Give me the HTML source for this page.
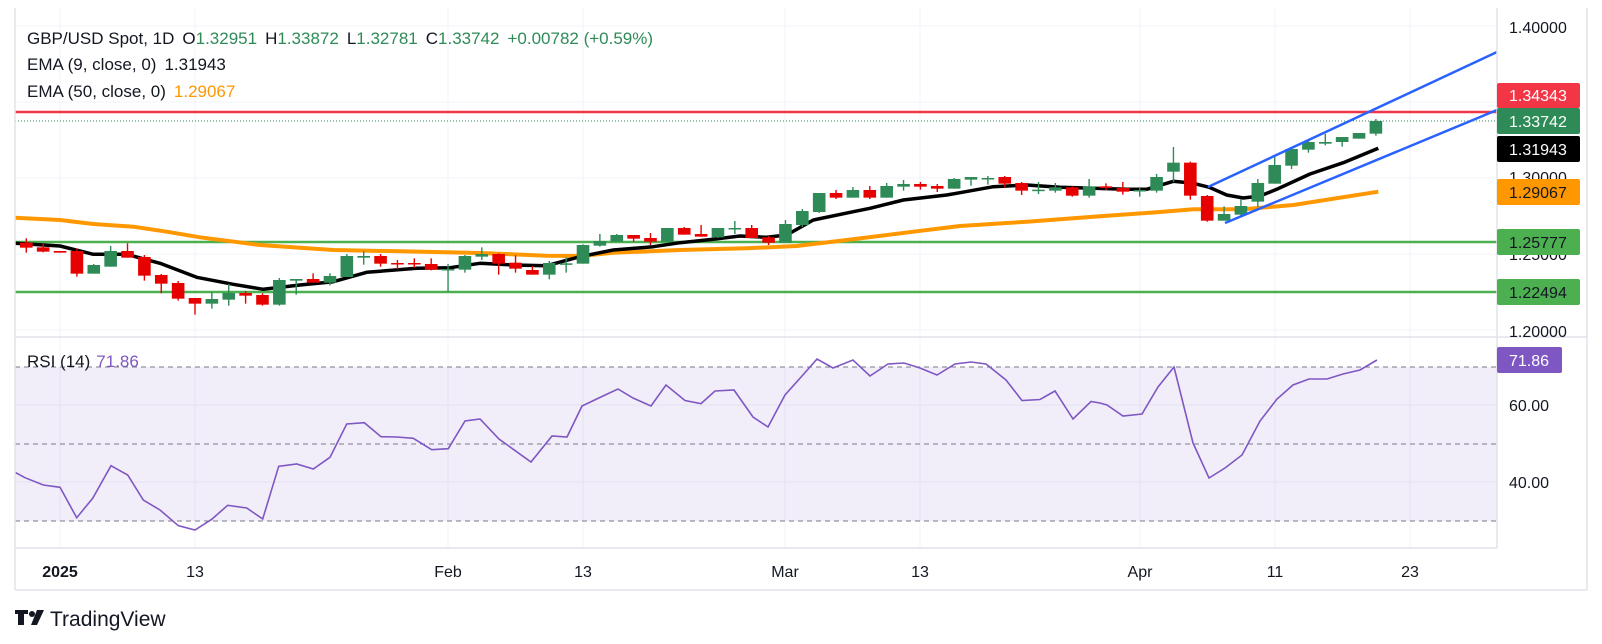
<!DOCTYPE html>
<html><head><meta charset="utf-8"><style>
html,body{margin:0;padding:0;background:#fff;}
svg{display:block;font-family:"Liberation Sans",sans-serif;}
</style></head><body>
<svg id="s" width="1602" height="644" viewBox="0 0 1602 644" xmlns="http://www.w3.org/2000/svg">
<rect width="1602" height="644" fill="#fff"/>
<g id="grid" stroke="#f0f3fa" stroke-width="1"></g>
<rect x="15" y="367" width="1482" height="154" fill="#7e57c2" fill-opacity="0.1"/>
<g stroke="#787b86" stroke-width="1" stroke-dasharray="5,4">
<line x1="15" y1="367" x2="1497" y2="367"/><line x1="15" y1="444" x2="1497" y2="444"/><line x1="15" y1="521" x2="1497" y2="521"/>
</g>
<line x1="15" y1="242" x2="1497" y2="242" stroke="#4caf50" stroke-width="2.5"/>
<line x1="15" y1="292" x2="1497" y2="292" stroke="#4caf50" stroke-width="2.5"/>
<line x1="15" y1="112" x2="1497" y2="112" stroke="#f23645" stroke-width="2.5"/>
<line x1="15" y1="121" x2="1497" y2="121" stroke="#2e8b57" stroke-width="1" stroke-dasharray="1,2"/>
<polyline id="ema50" fill="none" stroke="#ff9800" stroke-width="4" stroke-linejoin="round"/>
<polyline id="ema9" fill="none" stroke="#000" stroke-width="3.5" stroke-linejoin="round"/>
<g id="candles"></g>
<line x1="1208" y1="187" x2="1497" y2="52" stroke="#2962ff" stroke-width="2.5"/>
<line x1="1225" y1="223" x2="1497" y2="110" stroke="#2962ff" stroke-width="2.5"/>
<polyline id="rsi" fill="none" stroke="#7e57c2" stroke-width="1.6"/>
<g stroke="#e0e3eb" stroke-width="1.5" fill="none">
<line x1="15" y1="8" x2="15" y2="590"/><line x1="1497" y1="8" x2="1497" y2="548"/>
<line x1="15" y1="337" x2="1587" y2="337"/><line x1="15" y1="548" x2="1497" y2="548"/>
<line x1="15" y1="590" x2="1587" y2="590"/><line x1="1587" y1="8" x2="1587" y2="590"/>
</g>
<g font-size="17" fill="#131722">
<text x="27" y="44">GBP/USD Spot, 1D<tspan dx="8">O</tspan><tspan fill="#2e8b57">1.32951</tspan><tspan dx="8">H</tspan><tspan fill="#2e8b57">1.33872</tspan><tspan dx="8">L</tspan><tspan fill="#2e8b57">1.32781</tspan><tspan dx="8">C</tspan><tspan fill="#2e8b57">1.33742</tspan><tspan dx="8" fill="#2e8b57">+0.00782 (+0.59%)</tspan></text>
<text x="27" y="70">EMA (9, close, 0)<tspan dx="8">1.31943</tspan></text>
<text x="27" y="97">EMA (50, close, 0)<tspan dx="8" fill="#ff9800">1.29067</tspan></text>
<text x="27" y="367">RSI (14)<tspan dx="6" fill="#7e57c2">71.86</tspan></text>
</g>
<g font-size="16" fill="#131722">
<text x="1509" y="33">1.40000</text>
<text x="1509" y="183">1.30000</text>
<text x="1509" y="260">1.25000</text>
<text x="1509" y="337">1.20000</text>
<text x="1509" y="411">60.00</text>
<text x="1509" y="488">40.00</text>
</g>
<g font-size="16" fill="#fff">
<rect x="1497" y="83" width="83" height="25" rx="2" fill="#f23645"/><text x="1509" y="101">1.34343</text>
<rect x="1497" y="108" width="83" height="26" rx="2" fill="#2e8b57"/><text x="1509" y="127">1.33742</text>
<rect x="1497" y="136" width="83" height="26" rx="2" fill="#000"/><text x="1509" y="155">1.31943</text>
<rect x="1497" y="179" width="83" height="26" rx="2" fill="#ff9800"/><text x="1509" y="198" fill="#131722">1.29067</text>
<rect x="1497" y="229" width="83" height="26" rx="2" fill="#4caf50"/><text x="1509" y="248" fill="#131722">1.25777</text>
<rect x="1497" y="279" width="83" height="26" rx="2" fill="#4caf50"/><text x="1509" y="298" fill="#131722">1.22494</text>
<rect x="1497" y="347" width="65" height="26" rx="2" fill="#7e57c2"/><text x="1509" y="366">71.86</text>
</g>
<g font-size="16" fill="#131722" text-anchor="middle">
<text x="60" y="577" font-weight="bold">2025</text>
<text x="195" y="577">13</text><text x="448" y="577">Feb</text><text x="583" y="577">13</text>
<text x="785" y="577">Mar</text><text x="920" y="577">13</text><text x="1140" y="577">Apr</text>
<text x="1275" y="577">11</text><text x="1410" y="577">23</text>
</g>
<g fill="#131722">
<path d="M15 610h13v4h-4v11h-6v-11h-3z"/>
<circle cx="32" cy="614" r="3"/>
<path d="M37 610h7l-7 15h-6z"/>
</g>
<text x="50" y="626" font-size="21" fill="#131722">TradingView</text>
</svg>
<script>
var NS="http://www.w3.org/2000/svg";
function X(d){return 195+16.87*(d-8);}
var g=document.getElementById('grid');
[60,195,448,583,785,920,1140,1275,1410].forEach(function(x){
 var l=document.createElementNS(NS,'line');l.setAttribute('x1',x);l.setAttribute('x2',x);l.setAttribute('y1',8);l.setAttribute('y2',548);g.appendChild(l);});
[26,102,178,254,330,405,482].forEach(function(y){
 var l=document.createElementNS(NS,'line');l.setAttribute('x1',15);l.setAttribute('x2',1497);l.setAttribute('y1',y);l.setAttribute('y2',y);g.appendChild(l);});
var z4=[[-2,248,263,235,278,0],[-1,262,275,252,277,0],[0,273,278,273,278,0],[1,273,341,265,350,0],[2,315,341,312,341,1],[3,273,320,258,320,1],[4,273,293,250,293,0],[5,291,347,285,362,0],[6,345,371,342,400,0],[7,369,416,363,422,0],[8,414,431,414,464,0],[9,417,431,396,446,1],[10,399,419,372,437,1],[11,399,407,393,431,0],[12,405,434,400,437,0],[13,360,434,354,437,1],[14,357,362,357,404,1],[15,357,368,340,368,0],[16,348,368,340,376,1],[17,288,351,282,351,1],[18,288,293,273,314,1],[19,288,311,282,320,0],[20,309,311,300,328,0],[21,309,311,295,323,0],[22,312,329,295,331,0],[23,327,331,312,395,1],[24,288,329,285,338,1]];
var z5=[[25,312,320,292,330,1],[26,312,341,310,374,0],[27,338,356,316,368,0],[28,360,374,348,374,0],[29,339,374,333,388,1],[30,340,342,322,368,1],[31,285,341,283,341,1],[32,273,287,252,290,1],[33,255,275,252,275,1],[34,255,266,255,275,0],[35,264,275,249,285,0],[36,234,275,234,275,1],[37,234,254,231,254,0],[38,252,260,225,260,0],[39,234,262,234,264,1],[40,234,237,213,252,1],[41,234,264,225,264,0],[42,262,278,258,285,0],[43,222,278,210,278,1],[44,183,225,177,231,1],[45,129,186,129,189,1],[46,129,143,120,147,0],[47,120,143,111,143,1],[48,120,143,108,147,0],[49,108,143,99,143,1],[50,102,110,90,122,1],[51,102,110,96,119,0],[52,108,116,102,126,0],[53,87,116,84,116,1],[54,81,89,81,107,1]];
var z6=[[55,234,236,228,254,1],[56,231,251,228,262,0],[57,249,272,246,285,0],[58,269,272,246,282,1],[59,262,272,249,278,1],[60,262,287,259,290,0],[61,259,287,237,293,1],[62,259,264,250,270,0],[63,264,275,246,284,0],[64,270,272,264,290,1],[65,231,272,222,278,1],[66,188,215,141,246,1],[67,188,287,185,299,0],[68,288,362,285,365,0],[69,342,362,319,362,1],[70,318,344,297,350,1],[71,249,305,237,320,1],[72,195,251,170,251,1],[73,147,197,141,207,1],[74,126,149,120,158,1],[75,126,131,102,136,1],[76,111,126,111,140,1],[77,99,116,99,116,1],[78,63,101,57,107,1]];
var cg=document.getElementById('candles');
function draw(arr,off){arr.forEach(function(c){
 var x=X(c[0]),col=c[5]?'#2e8b57':'#e60000';
 var w=document.createElementNS(NS,'line');w.setAttribute('x1',x);w.setAttribute('x2',x);w.setAttribute('y1',off+c[3]/3);w.setAttribute('y2',off+c[4]/3);w.setAttribute('stroke',col);w.setAttribute('stroke-width','1.4');cg.appendChild(w);
 var r=document.createElementNS(NS,'rect');var t=off+c[1]/3,b=off+c[2]/3;if(b-t<1.5)b=t+1.5;
 r.setAttribute('x',x-6.3);r.setAttribute('width',12.6);r.setAttribute('y',t);r.setAttribute('height',b-t);r.setAttribute('fill',col);cg.appendChild(r);});}
draw(z4,160);draw(z5,150);draw(z6,100);
function pts(sets){var o=[];sets.forEach(function(s){var ox=s[0],oy=s[1];s[2].forEach(function(p){o.push((ox+p[0]/3).toFixed(1)+','+(oy+p[1]/3).toFixed(1));});});return o.join(' ');}
document.getElementById('ema9').setAttribute('points',pts([
[0,160,[[45,250],[180,258],[280,283],[380,283],[480,310],[590,352],[700,373],[790,388],[900,375],[1000,365],[1100,337],[1250,325],[1350,323],[1440,310]]],
[480,150,[[100,345],[200,347],[300,320],[400,300],[520,290],[600,278],[700,268],[780,258],[860,262],[920,255],[1000,210],[1120,185],[1170,175],[1270,150],[1400,135],[1440,128]]],
[960,100,[[100,260],[200,255],[300,262],[400,265],[500,268],[560,268],[640,244],[700,250],[748,262],[800,285],[850,294],[900,288],[950,268],[1050,222],[1150,188],[1255,145]]]]));
document.getElementById('ema50').setAttribute('points',pts([
[0,160,[[45,173],[180,180],[280,192],[400,200],[500,215],[600,232],[780,255],[1000,270],[1200,274],[1440,279]]],
[480,150,[[200,317],[300,318],[400,308],[600,300],[800,295],[950,288],[1100,270],[1300,245],[1440,228]]],
[960,100,[[200,365],[400,350],[600,336],[700,328],[850,328],[1000,315],[1255,275]]]]));
var r1=[[45,427],[75,443],[130,465],[180,472],[230,563],[278,505],[333,407],[383,435],[430,510],[480,540],[535,587],[585,600],[635,568],[683,526],[740,534],[788,567],[836,409],[890,402],[940,417],[990,382],[1040,282],[1093,278],[1143,320],[1190,321],[1240,325],[1295,359],[1345,356]];
var s=r1.map(function(p){return (p[0]/3).toFixed(1)+','+(330+p[1]/3).toFixed(1);});
[[465,421],[480,419],[499,439],[531,462],[552,436],[567,437],[582,406],[603,396],[618,389],[633,398],[651,406],[666,385],[685,400.5],[701,403.6],[715,391],[734,390],[753,417],[768,427],[785,395],[802,376],[817,359],[833,368],[853,360],[870,376],[888,364],[904,363],[920,368],[937,375],[955,364],[971,362],[986,364],[1006,380],[1022,400.5],[1040,399.5],[1055,391],[1073,419],[1091,401.5],[1100,403],[1107,405],[1123,416],[1142,414],[1158,387],[1174,367],[1193,443],[1209,478],[1225,468],[1242,455],[1260,421],[1277,399],[1293,385],[1309,379],[1327,379],[1343,374],[1360,370],[1377,360]].forEach(function(p){s.push(p[0]+','+p[1]);});
document.getElementById('rsi').setAttribute('points',s.join(' '));
</script>
</body></html>
